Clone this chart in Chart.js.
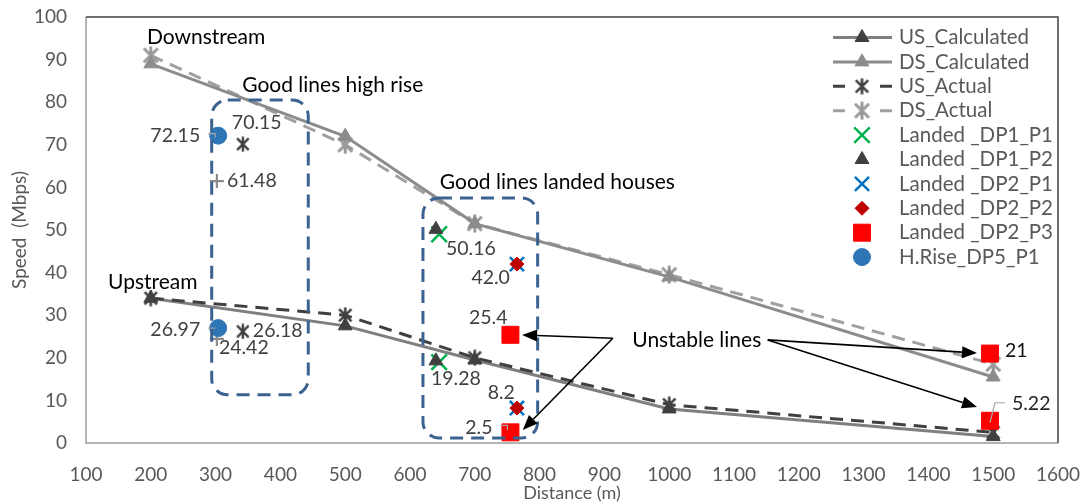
<!DOCTYPE html>
<html><head><meta charset="utf-8">
<script src="https://cdn.jsdelivr.net/npm/chart.js@4.4.1/dist/chart.umd.min.js"></script>
<style>html,body{margin:0;padding:0;background:#fff;} canvas{display:block}</style>
</head><body>
<canvas id="c" width="1084" height="502"></canvas>
<script>
// ---------------- DATA ----------------
const distances    = [200, 500, 700, 1000, 1500];
const usCalculated = [34, 27.5, 19.5, 8, 1.5];
const dsCalculated = [89, 72, 51.5, 39, 15.5];
const usActual     = [34, 30, 20, 9, 2.5];
const dsActual     = [91, 70, 51.5, 39.5, 18.5];

const dp1P1X = [645, 645];            const dp1P1Y = [49, 19];
const dp1P2X = [640, 640];            const dp1P2Y = [50.16, 19.28];
const dp2P1X = [765, 765];            const dp2P1Y = [42, 8.2];
const dp2P2X = [765, 765];            const dp2P2Y = [42.0, 8.2];
const dp2P3X = [755, 755, 1495, 1495]; const dp2P3Y = [25.4, 2.5, 21, 5.22];
const hRiseX = [304, 304];            const hRiseY = [72.15, 26.97];
const hRiseStarX = [342, 342];        const hRiseStarY = [70.15, 26.18];
const hRisePlusX = [302, 302];        const hRisePlusY = [61.48, 24.42];

const dp1P2Labels = ['50.16', '19.28'];
const dp2P2Labels = ['42.0', '8.2'];
const dp2P3Labels = ['25.4', '2.5', '21', '5.22'];
const hRiseLabels = ['72.15', '26.97'];
const hRiseStarLabels = ['70.15', '26.18'];
const hRisePlusLabels = ['61.48', '24.42'];

const seriesNames = ['US_Calculated', 'DS_Calculated', 'US_Actual', 'DS_Actual',
  'Landed _DP1_P1', 'Landed _DP1_P2', 'Landed _DP2_P1', 'Landed _DP2_P2', 'Landed _DP2_P3', 'H.Rise_DP5_P1'];

const xMin = 100, xMax = 1600, xStep = 100;
const yMin = 0, yMax = 100, yStep = 10;
const xTitle = 'Distance (m)';
const yTitle = 'Speed  (Mbps)';

// annotations (data units)
const noteTexts = ['Downstream', 'Good lines high rise', 'Upstream', 'Good lines landed houses', 'Unstable lines'];
const noteX = [194, 341, 134, 646, 943];
const noteY = [95.3, 84.0, 37.8, 61.3, 24.2];
const boxesX0 = [294, 620]; const boxesX1 = [443, 797];
const boxesY0 = [11.3, 1.2]; const boxesY1 = [80.5, 57.5];
const arrowFromX = [913, 913, 1152, 1152];
const arrowFromY = [24.6, 24.6, 24.2, 24.2];
const arrowToX = [773, 774, 1475, 1475];
const arrowToY = [25.35, 3.05, 21.1, 8.45];

// ---------------- STYLE ----------------
const FONT = 'Lato, "Open Sans", sans-serif';
function starCanvas(color, size, lw) {
  const c = document.createElement('canvas');
  c.width = size; c.height = size;
  const g = c.getContext('2d');
  g.strokeStyle = color; g.lineWidth = lw;
  const m = lw / 2 + 1, s = size;
  g.beginPath();
  g.moveTo(m, m); g.lineTo(s - m, s - m);
  g.moveTo(s - m, m); g.lineTo(m, s - m);
  g.moveTo(s / 2, 0.5); g.lineTo(s / 2, s - 0.5);
  g.stroke();
  return c;
}
const starDark = starCanvas('#404040', 17, 2.6);
const starGray = starCanvas('#9a9a9a', 19, 3);
const starDarkSmall = starCanvas('#404040', 16, 2.4);

const pts = (xs, ys) => xs.map((x, i) => ({ x: x, y: ys[i] }));

const datasets = [
  { label: seriesNames[0], data: pts(distances, usCalculated), showLine: true, borderColor: '#7f7f7f', borderWidth: 3,
    pointStyle: 'triangle', pointRadius: 8, pointBackgroundColor: '#404040', pointBorderColor: '#404040', pointBorderWidth: 1, order: 6 },
  { label: seriesNames[1], data: pts(distances, dsCalculated), showLine: true, borderColor: '#8c8c8c', borderWidth: 3,
    pointStyle: 'triangle', pointRadius: 8, pointBackgroundColor: '#8c8c8c', pointBorderColor: '#8c8c8c', pointBorderWidth: 1, order: 7 },
  { label: seriesNames[2], data: pts(distances, usActual), showLine: true, borderColor: '#404040', borderWidth: 3, borderDash: [13, 8],
    pointStyle: starDark, pointRadius: 8, order: 5 },
  { label: seriesNames[3], data: pts(distances, dsActual), showLine: true, borderColor: '#a0a0a0', borderWidth: 3, borderDash: [13, 8],
    pointStyle: starGray, pointRadius: 9, order: 8 },
  { label: seriesNames[4], data: pts(dp1P1X, dp1P1Y), showLine: false, pointStyle: 'crossRot', pointRadius: 11,
    pointBorderColor: '#00b050', pointBackgroundColor: '#00b050', pointBorderWidth: 2.5, order: 3 },
  { label: seriesNames[5], data: pts(dp1P2X, dp1P2Y), showLine: false, pointStyle: 'triangle', pointRadius: 8,
    pointBorderColor: '#404040', pointBackgroundColor: '#404040', pointBorderWidth: 1, order: 2 },
  { label: seriesNames[6], data: pts(dp2P1X, dp2P1Y), showLine: false, pointStyle: 'crossRot', pointRadius: 10,
    pointBorderColor: '#0070c0', pointBackgroundColor: '#0070c0', pointBorderWidth: 2.5, order: 3 },
  { label: seriesNames[7], data: pts(dp2P2X, dp2P2Y), showLine: false, pointStyle: 'rectRot', pointRadius: 7,
    pointBorderColor: '#c00000', pointBackgroundColor: '#c00000', pointBorderWidth: 1, order: 2 },
  { label: seriesNames[8], data: pts(dp2P3X, dp2P3Y), showLine: false, pointStyle: 'rect', pointRadius: 12,
    pointBorderColor: '#ff0000', pointBackgroundColor: '#ff0000', pointBorderWidth: 1, order: 1 },
  { label: seriesNames[9], data: pts(hRiseX, hRiseY), showLine: false, pointStyle: 'circle', pointRadius: 8.5,
    pointBorderColor: '#2e75b6', pointBackgroundColor: '#2e75b6', pointBorderWidth: 1, order: 1 },
  { label: 'hrise_star', data: pts(hRiseStarX, hRiseStarY), showLine: false, pointStyle: starDarkSmall, pointRadius: 8, order: 1 },
  { label: 'hrise_plus', data: pts(hRisePlusX, hRisePlusY), showLine: false, pointStyle: 'cross', pointRadius: 7,
    pointBorderColor: '#8c8c8c', pointBackgroundColor: '#8c8c8c', pointBorderWidth: 2.2, order: 1 }
];

// label placement (pixel offsets from the marker)
const labelSets = [
  { ds: 5, texts: dp1P2Labels, color: '#404040', pos: [[10, 19, 'left'], [-5, 18, 'left']] },
  { ds: 7, texts: dp2P2Labels, color: '#404040', pos: [[-7, 14, 'right'], [-2, -15, 'right']] },
  { ds: 8, texts: dp2P3Labels, color: '#404040', pos: [[-3, -17, 'right'], [-18, -5, 'right'], [15, -3, 'left'], [22, -17, 'left']] },
  { ds: 9, texts: hRiseLabels, color: '#404040', pos: [[-18, 0, 'right'], [-18, 2, 'right']] },
  { ds: 10, texts: hRiseStarLabels, color: '#404040', pos: [[-11, -21, 'left'], [10, -1, 'left']] },
  { ds: 11, texts: hRisePlusLabels, color: '#404040', pos: [[10, 0, 'left'], [2, 9, 'left']] }
];
const labelColorOverride = { '21': '#111111', '5.22': '#262626' };
const leaders = [ // [ds, idx, [[dx,dy],...]]
  [9, 0, [[-10, -2], [-3, -2], [-3, 2]]],
  [9, 1, [[-10, 0], [-3, 0]]],
  [8, 1, [[-10, -7], [-3, -7], [-3, -2]]],
  [8, 3, [[0, 2], [5, -18], [15, -18]]]
];

function drawMarker(ctx, ds, x, y) {
  const style = ds.pointStyle;
  if (style instanceof HTMLCanvasElement) {
    ctx.drawImage(style, x - style.width / 2, y - style.height / 2);
    return;
  }
  ctx.save();
  ctx.fillStyle = ds.pointBackgroundColor;
  ctx.strokeStyle = ds.pointBorderColor;
  ctx.lineWidth = ds.pointBorderWidth;
  if (Chart.helpers && Chart.helpers.drawPoint) {
    Chart.helpers.drawPoint(ctx, { pointStyle: style, radius: ds.pointRadius, rotation: 0, borderWidth: ds.pointBorderWidth }, x, y);
  } else {
    const r = ds.pointRadius;
    ctx.beginPath();
    if (style === 'circle') ctx.arc(x, y, r, 0, Math.PI * 2);
    else if (style === 'rect') { const s = Math.SQRT1_2 * r; ctx.rect(x - s, y - s, 2 * s, 2 * s); }
    else if (style === 'rectRot') { ctx.moveTo(x - r, y); ctx.lineTo(x, y - r); ctx.lineTo(x + r, y); ctx.lineTo(x, y + r); ctx.closePath(); }
    else if (style === 'triangle') { ctx.moveTo(x, y - r); ctx.lineTo(x + r * 0.866, y + r / 2); ctx.lineTo(x - r * 0.866, y + r / 2); ctx.closePath(); }
    else if (style === 'crossRot') { const o = r * Math.SQRT1_2; ctx.moveTo(x - o, y - o); ctx.lineTo(x + o, y + o); ctx.moveTo(x + o, y - o); ctx.lineTo(x - o, y + o); }
    if (style !== 'crossRot') ctx.fill();
    ctx.stroke();
  }
  ctx.restore();
}

function arrow(ctx, x0, y0, x1, y1) {
  const a = Math.atan2(y1 - y0, x1 - x0), L = 15, W = 6;
  const bx = x1 - L * Math.cos(a), by = y1 - L * Math.sin(a);
  ctx.beginPath(); ctx.moveTo(x0, y0); ctx.lineTo(bx, by); ctx.stroke();
  ctx.beginPath();
  ctx.moveTo(x1, y1);
  ctx.lineTo(bx + W * Math.sin(a), by - W * Math.cos(a));
  ctx.lineTo(bx - W * Math.sin(a), by + W * Math.cos(a));
  ctx.closePath(); ctx.fill();
}

function roundRect(ctx, x, y, w, h, r) {
  ctx.beginPath();
  ctx.moveTo(x + r, y); ctx.lineTo(x + w - r, y); ctx.arcTo(x + w, y, x + w, y + r, r);
  ctx.lineTo(x + w, y + h - r); ctx.arcTo(x + w, y + h, x + w - r, y + h, r);
  ctx.lineTo(x + r, y + h); ctx.arcTo(x, y + h, x, y + h - r, r);
  ctx.lineTo(x, y + r); ctx.arcTo(x, y, x + r, y, r);
  ctx.closePath();
}

function noScalePadding(s) {
  s.paddingTop = 0; s.paddingBottom = 0; s.paddingLeft = 0; s.paddingRight = 0;
}

const overlay = {
  id: 'overlay',
  beforeDatasetsDraw(chart) {
    const { ctx, chartArea: a } = chart;
    ctx.save();
    ctx.lineWidth = 1.5;
    ctx.strokeStyle = '#9a9a9a';
    ctx.beginPath(); ctx.moveTo(a.left, a.top); ctx.lineTo(a.left, a.bottom); ctx.lineTo(a.right, a.bottom); ctx.stroke();
    ctx.strokeStyle = '#404040';
    ctx.beginPath(); ctx.moveTo(a.left, a.top); ctx.lineTo(a.right, a.top); ctx.lineTo(a.right, a.bottom); ctx.stroke();
    // axis titles
    ctx.fillStyle = '#595959';
    ctx.font = '18px ' + FONT;
    ctx.textAlign = 'center'; ctx.textBaseline = 'middle';
    ctx.fillText(xTitle, (a.left + a.right) / 2, 493);
    ctx.save();
    ctx.translate(20, (a.top + a.bottom) / 2);
    ctx.rotate(-Math.PI / 2);
    ctx.font = '19px ' + FONT;
    ctx.fillText(yTitle, 0, 0);
    ctx.restore();
    ctx.restore();
  },
  afterDatasetsDraw(chart) {
    const { ctx } = chart;
    const sx = chart.scales.x, sy = chart.scales.y;
    const px = v => sx.getPixelForValue(v), py = v => sy.getPixelForValue(v);
    ctx.save();
    // dashed rounded boxes
    ctx.strokeStyle = '#3b6290'; ctx.lineWidth = 3; ctx.setLineDash([13, 8]);
    for (let i = 0; i < boxesX0.length; i++) {
      const x0 = px(boxesX0[i]), x1 = px(boxesX1[i]), y0 = py(boxesY1[i]), y1 = py(boxesY0[i]);
      roundRect(ctx, x0, y0, x1 - x0, y1 - y0, 16);
      ctx.stroke();
    }
    ctx.setLineDash([]);
    // arrows
    ctx.strokeStyle = '#000'; ctx.fillStyle = '#000'; ctx.lineWidth = 1.6;
    for (let i = 0; i < arrowFromX.length; i++) {
      arrow(ctx, px(arrowFromX[i]), py(arrowFromY[i]), px(arrowToX[i]), py(arrowToY[i]));
    }
    // leader lines
    ctx.strokeStyle = '#a6a6a6'; ctx.lineWidth = 1.2;
    leaders.forEach(([d, idx, path]) => {
      const p = chart.getDatasetMeta(d).data[idx];
      ctx.beginPath();
      path.forEach(([dx, dy], k) => { if (k === 0) ctx.moveTo(p.x + dx, p.y + dy); else ctx.lineTo(p.x + dx, p.y + dy); });
      ctx.stroke();
    });
    // notes
    ctx.font = '21px ' + FONT; ctx.textBaseline = 'middle'; ctx.textAlign = 'left'; ctx.fillStyle = '#000';
    noteTexts.forEach((t, i) => ctx.fillText(t, px(noteX[i]), py(noteY[i])));
    // data labels
    ctx.font = '19.5px ' + FONT;
    labelSets.forEach(set => {
      const meta = chart.getDatasetMeta(set.ds);
      set.texts.forEach((t, i) => {
        const p = meta.data[i];
        const [dx, dy, al] = set.pos[i];
        ctx.textAlign = al;
        ctx.fillStyle = labelColorOverride[t] || set.color;
        ctx.fillText(t, p.x + dx, p.y + dy);
      });
    });
    ctx.restore();
  },
  afterDraw(chart) {
    const { ctx } = chart;
    ctx.save();
    const lx0 = 833, lx1 = 892, mx = 862, tx = 899, y0 = 37.5, dy = 24.4;
    ctx.font = '20.5px ' + FONT; ctx.textBaseline = 'middle'; ctx.textAlign = 'left';
    for (let i = 0; i < seriesNames.length; i++) {
      const ds = chart.data.datasets[i];
      const y = y0 + i * dy;
      if (ds.showLine) {
        ctx.strokeStyle = ds.borderColor; ctx.lineWidth = ds.borderWidth;
        ctx.beginPath();
        if (ds.borderDash) {
          ctx.moveTo(lx0, y); ctx.lineTo(lx0 + 12, y);
          ctx.moveTo(lx1 - 12, y); ctx.lineTo(lx1, y);
        } else { ctx.moveTo(lx0, y); ctx.lineTo(lx1, y); }
        ctx.stroke();
      }
      drawMarker(ctx, ds, mx, y);
      ctx.fillStyle = '#595959';
      ctx.fillText(ds.label, tx, y);
    }
    ctx.restore();
  }
};

new Chart(document.getElementById('c'), {
  type: 'scatter',
  data: { datasets: datasets.map(d => Object.assign({ tension: 0, fill: false, pointHoverRadius: d.pointRadius }, d)) },
  options: {
    responsive: false, animation: false, devicePixelRatio: 1,
    layout: { padding: { top: 17, right: 26, left: 0, bottom: 0 } },
    plugins: { legend: { display: false }, tooltip: { enabled: false } },
    events: [],
    scales: {
      x: {
        type: 'linear', min: xMin, max: xMax,
        ticks: { stepSize: xStep, color: '#595959', font: { family: FONT, size: 19 }, padding: 20, maxRotation: 0, autoSkip: false,
                 callback: v => String(v) },
        grid: { display: false, drawTicks: false }, border: { display: false },
        afterFit(s) { s.height = 59; noScalePadding(s); }
      },
      y: {
        type: 'linear', min: yMin, max: yMax,
        ticks: { stepSize: yStep, color: '#595959', font: { family: FONT, size: 19 }, padding: 19, callback: v => String(v) },
        grid: { display: false, drawTicks: false }, border: { display: false },
        afterFit(s) { s.width = 86; noScalePadding(s); }
      }
    }
  },
  plugins: [overlay]
});
</script>
</body></html>
